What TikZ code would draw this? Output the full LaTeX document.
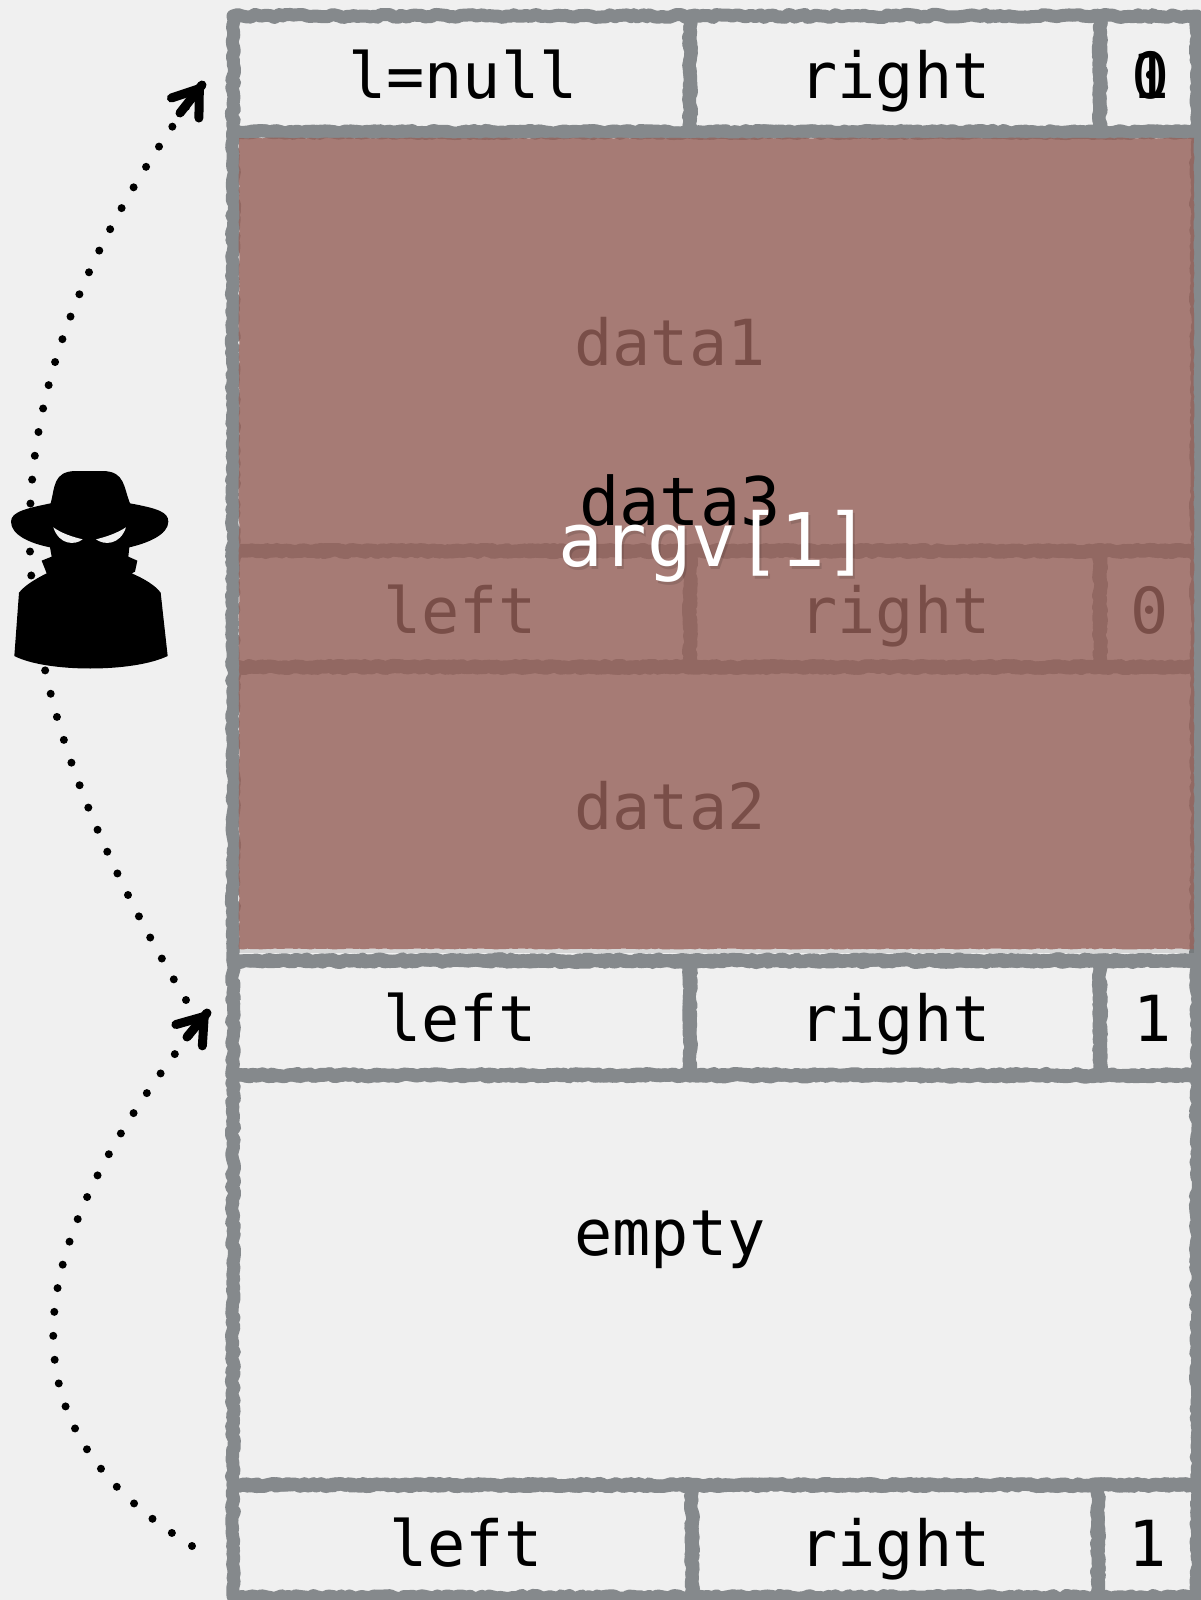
\documentclass[tikz,border=0pt]{standalone}
\usepackage{fontspec}
\newfontfamily\monof{DejaVu Sans Mono}
\usetikzlibrary{decorations.pathmorphing,arrows.meta}
\definecolor{paper}{HTML}{F0F0F0}
\definecolor{rule}{HTML}{85898C}
\definecolor{veil}{RGB}{150,97,89}
\tikzset{
  rough/.style={decorate,decoration={random steps,segment length=4pt,amplitude=1.6pt}},
  cellbox/.style={draw=rule,line width=13pt,line join=round,rectangle,inner sep=0,outer sep=0,rough},
  lbl/.style={font=\monof\fontsize{63.5}{64}\selectfont,anchor=base,inner sep=0,text=black},
  dotline/.style={line width=8pt,dash pattern=on 0pt off 24pt,line cap=round,
    -{Straight Barb[length=24pt,width=34pt,line width=9pt,round]}},
  stub/.style={line width=9pt,line cap=round},
}
\begin{document}
\begin{tikzpicture}[x=1pt,y=-1pt]
\useasboundingbox (0,0) rectangle (1201,1600);
\fill[paper] (0,0) rectangle (1201,1600);
\pgfmathsetseed{11}
% top row
\node[cellbox,minimum width=457pt,minimum height=116pt] (a1) at (461.5,74) {};
\node[cellbox,minimum width=410pt,minimum height=116pt] (a2) at (895,74) {};
\node[cellbox,minimum width=97pt,minimum height=116pt] (a3) at (1148.5,74) {};
% first data block
\node[cellbox,minimum width=964pt,minimum height=419pt] (d1) at (715,341.5) {};
% overwritten header row
\node[cellbox,minimum width=457pt,minimum height=116pt] (b1) at (461.5,609) {};
\node[cellbox,minimum width=410pt,minimum height=116pt] (b2) at (895,609) {};
\node[cellbox,minimum width=97pt,minimum height=116pt] (b3) at (1148.5,609) {};
% second data block
\node[cellbox,minimum width=964pt,minimum height=294pt] (d2) at (715,814) {};
% third row
\node[cellbox,minimum width=457pt,minimum height=115pt] (c1) at (461.5,1018) {};
\node[cellbox,minimum width=410pt,minimum height=115pt] (c2) at (895,1018) {};
\node[cellbox,minimum width=97pt,minimum height=115pt] (c3) at (1148.5,1018) {};
% empty block
\node[cellbox,minimum width=964pt,minimum height=410pt] (e) at (715,1280) {};
% bottom row
\node[cellbox,minimum width=459pt,minimum height=112pt] (f1) at (462.5,1541) {};
\node[cellbox,minimum width=406pt,minimum height=112pt] (f2) at (895,1541) {};
\node[cellbox,minimum width=99pt,minimum height=112pt] (f3) at (1147.5,1541) {};
% labels
\node[lbl] (ta1) at (463,99) {l=null};
\node[lbl] (ta2) at (895,99) {right};
\node[lbl] (ta3) at (1151,99) {0};
\node[lbl] (ta4) at (1151,99) {1};
\node[lbl] (td1) at (670,365) {data1};
\node[lbl] (tb1) at (460,633) {left};
\node[lbl] (tb2) at (895,633) {right};
\node[lbl] (tb3) at (1150,633) {0};
\node[lbl] (td2) at (670,829) {data2};
% soft edge under the overflow
\fill[black,opacity=.10] (239,949) rectangle (1194,953);
% translucent overflow
\node[rectangle,fill=veil,fill opacity=.81,inner sep=0,outer sep=0,minimum width=955pt,minimum height=811pt,
  rough,decoration={amplitude=.5pt}] (mask) at (716.5,543.5) {};
\node[lbl] (tc1) at (460,1041) {left};
\node[lbl] (tc2) at (895,1041) {right};
\node[lbl] (tc3) at (1153,1041) {1};
\node[lbl] (te) at (670,1255) {empty};
\node[lbl] (tf1) at (466,1566) {left};
\node[lbl] (tf2) at (895,1566) {right};
\node[lbl] (tf3) at (1148,1566) {1};
\node[lbl,font=\monof\fontsize{67}{67}\selectfont] (td3) at (680,525) {data3};
\node[lbl,font=\monof\fontsize{74}{75}\selectfont,text=black,text opacity=.12] (targs) at (716,569) {argv[1]};
\node[lbl,font=\monof\fontsize{74}{75}\selectfont,text=white] (targ) at (714,566) {argv[1]};
% connectors
\coordinate (s1) at (186,1000);
\coordinate (h1) at (202,85);
\coordinate (sb1) at (180,113);
\coordinate (s2) at (192,1546);
\coordinate (h2) at (207,1013);
\coordinate (sb2) at (187,1037);
\draw[dotline] (s1) .. controls (-30,640) and (-18,386) .. (h1);
\draw[dotline] (s2) .. controls (3,1430) and (8,1260) .. (h2);
\draw[stub] (h1) -- (sb1);
\draw[stub] (h2) -- (sb2);
% spy
\begin{scope}[shift={(0,440)},scale=1/3]
\fill[black] (152,190) .. controls (165,140) and (160,95) .. (225,93) -- (310,93)
  .. controls (375,95) and (370,140) .. (390,190)
  .. controls (470,205) and (505,215) .. (505,245) .. controls (505,285) and (440,310) .. (388,322)
  -- (385,350) -- (412,362) -- (405,395) -- (395,400)
  .. controls (430,415) and (465,435) .. (482,458) -- (503,648) .. controls (400,698) and (140,698) .. (43,648) -- (57,458)
  .. controls (75,435) and (110,415) .. (140,400)
  -- (125,362) -- (155,350) -- (150,322) .. controls (90,310) and (33,285) .. (33,245)
  .. controls (33,215) and (80,205) .. (152,190) -- cycle;
\fill[paper] (160,262) .. controls (185,280) and (215,290) .. (248,298)
  .. controls (225,316) and (178,316) .. (160,262) -- cycle;
\fill[paper] (378,262) .. controls (350,280) and (320,290) .. (288,298)
  .. controls (312,316) and (360,316) .. (378,262) -- cycle;
\end{scope}
\end{tikzpicture}
\end{document}
